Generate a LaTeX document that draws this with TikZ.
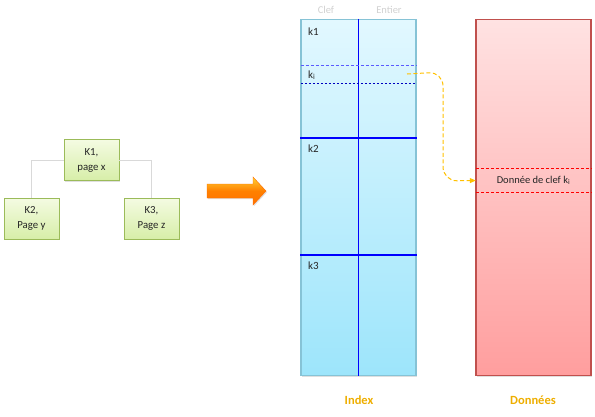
\documentclass[tikz,border=0pt]{standalone}
\usepackage{fontspec}
\setmainfont{Carlito}
\usetikzlibrary{shadows,arrows.meta}
\definecolor{treeborder}{HTML}{9BBB59}
\definecolor{treetop}{HTML}{F4FBE2}
\definecolor{treebot}{HTML}{D7EEA8}
\definecolor{idxborder}{HTML}{86C3D6}
\definecolor{idxtop}{HTML}{E2F8FF}
\definecolor{idxbot}{HTML}{9DE5FB}
\definecolor{datborder}{HTML}{C0504D}
\definecolor{dattop}{HTML}{FFE2E2}
\definecolor{datbot}{HTML}{FF9E9E}
\definecolor{gold}{HTML}{EEAE00}
\definecolor{arrowy}{HTML}{FFC000}
\definecolor{txt}{HTML}{262626}
\definecolor{dashblue}{HTML}{5A5AFF}
\tikzset{
  treebox/.style={draw=treeborder, line width=0.8pt, top color=treetop, bottom color=treebot,
    minimum width=55pt, minimum height=41pt, inner sep=1pt, align=center,
    font=\fontsize{10.8}{15}\selectfont, text=txt,
    drop shadow={opacity=0.25, shadow xshift=1pt, shadow yshift=-1.2pt}},
  treeline/.style={draw=black!15, line width=0.8pt},
  column/.style={minimum width=115pt, minimum height=356pt, inner sep=0pt, line width=1.2pt,
    drop shadow={opacity=0.25, shadow xshift=1.2pt, shadow yshift=-1.5pt}},
  keytext/.style={font=\fontsize{11}{13}\selectfont, text=txt, anchor=base west, inner sep=0pt},
  head/.style={font=\fontsize{10.5}{12}\selectfont, text=black!18},
  caption/.style={font=\bfseries\fontsize{12.5}{14}\selectfont, text=gold},
  rowbox/.style={minimum width=115pt, inner sep=0pt},
  solidsep/.style={draw=blue, line width=1.4pt},
}
\begin{document}
\begin{tikzpicture}[x=1pt,y=-1pt]
\useasboundingbox (0,0) rectangle (595,416);

% tree
\node[treebox] (k1) at (91.5,160) {K1,\\page x};
\node[treebox] (k2) at (31.5,218.5) {K2,\\Page y};
\node[treebox] (k3) at (151.5,218.5) {K3,\\Page z};
\draw[treeline] (k1.west) -| (k2.north);
\draw[treeline] (k1.east) -| (k3.north);

% big arrow
\shade[top color=orange!45!yellow!80, bottom color=orange!90!red, middle color=orange,
  draw=orange!85!red, line width=0.4pt,
  drop shadow={opacity=0.25, shadow xshift=1pt, shadow yshift=-1.2pt}]
  (207,184) -- (253,184) -- (253,177) -- (266,191) -- (253,205) -- (253,198) -- (207,198) -- cycle;

% index column
\node[column, draw=idxborder, top color=idxtop, bottom color=idxbot] (idx) at (358.5,197.5) {};
\draw[blue, line width=1pt] (idx.north) -- (idx.south);
\node[rowbox, minimum height=17pt] (kirow) at (358.5,74.5) {};
\draw[draw=dashblue, dash pattern=on 3pt off 2pt, line width=1pt] (kirow.north west) -- (kirow.north east);
\draw[draw=blue!75!black, dash pattern=on 2.5pt off 1.5pt, line width=0.8pt] (kirow.south west) -- (kirow.south east);
\draw[solidsep] (idx.west |- 0,138) -- (idx.east |- 0,138);
\draw[solidsep] (idx.west |- 0,255) -- (idx.east |- 0,255);
\node[keytext] (t1) at (308,35) {k1};
\node[keytext] (ti) at (308,78) {k\textsubscript{i}};
\node[keytext] (t2) at (308,152) {k2};
\node[keytext] (t3) at (308,269) {k3};
\node[head] (hclef) at (326,10) {Clef};
\node[head] (hent) at (389,10) {Entier};
\node[caption] (cidx) at (359,400) {Index};

% data column
\node[column, draw=datborder, top color=dattop, bottom color=datbot] (dat) at (533.5,197.5) {};
\node[rowbox, minimum height=23pt, font=\fontsize{10.5}{12}\selectfont, text=txt] (dk) at (533.5,180.5) {Donnée de clef k\textsubscript{i}};
\draw[red, dash pattern=on 3pt off 2pt, line width=0.8pt] (dk.north west) -- (dk.north east);
\draw[red, dash pattern=on 3pt off 2pt, line width=0.8pt] (dk.south west) -- (dk.south east);
\node[caption] (cdat) at (533,400) {Données};

% link
\coordinate (ki) at (407,74);
\draw[arrowy, line width=1pt, dash pattern=on 4pt off 2.5pt, rounded corners=14pt,
  -{Triangle[length=6pt,width=5pt]}] (ki) -- (443,72) -- (443,181) -- (dk.west);
\end{tikzpicture}
\end{document}
